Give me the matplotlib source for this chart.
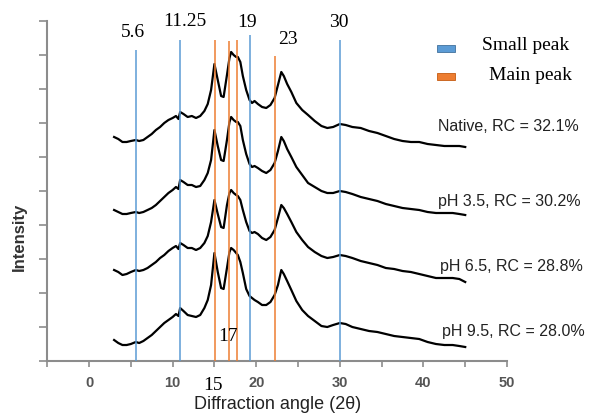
import numpy as np
import matplotlib
matplotlib.use("Agg")
import matplotlib.pyplot as plt
from matplotlib.patches import Rectangle

# 2theta grid shared by the four patterns
two_theta = [3, 3.5, 4, 4.5, 5, 5.6, 6, 6.5, 7, 7.5,
             8, 8.5, 9, 9.5, 10, 10.4, 10.7, 10.9, 11.3, 11.8,
             12.3, 12.8, 13.3, 13.8, 14.2, 14.6, 15.0, 15.4, 15.8, 16.1,
             16.5, 16.8, 17.0, 17.3, 17.6, 17.8, 18.1, 18.4, 18.8, 19.2,
             19.5, 19.8, 20.2, 20.7, 21.2, 21.7, 22.2, 22.6, 23.0, 23.3,
             23.7, 24.2, 24.8, 25.5, 26.2, 27, 27.8, 28.5, 29.2, 30,
             30.7, 31.5, 32.5, 33.5, 34.5, 35.5, 36.5, 37.5, 38.5, 39.5,
             40.5, 41.5, 42.5, 43.5, 44.3, 45]

# stacked intensities (a.u., offset already included)
native = [224, 222, 219, 219, 220, 221, 220, 221, 224, 227,
          231, 234, 238, 241, 243, 245, 242, 249, 247, 244,
          245, 243, 245, 250, 257, 271, 297, 281, 265, 264,
          286, 303, 309, 306, 304, 304, 299, 285, 271, 261,
          258, 260, 257, 254, 253, 256, 263, 276, 289, 285,
          277, 269, 258, 251, 246, 240, 235, 233, 234, 237,
          236, 234, 233, 230, 228, 225, 222, 220, 219, 219,
          217, 216, 215, 215, 215, 214]
ph35 = [151, 149, 147, 147, 148, 149, 148, 149, 151, 153,
        156, 160, 164, 168, 171, 174, 172, 181, 179, 176,
        176, 174, 175, 181, 188, 201, 231, 215, 201, 200,
        221, 239, 244, 241, 239, 239, 235, 221, 207, 197,
        194, 195, 193, 190, 188, 191, 198, 210, 224, 220,
        212, 204, 194, 186, 178, 174, 170, 168, 168, 170,
        169, 167, 164, 162, 160, 157, 155, 153, 152, 151,
        149, 148, 148, 148, 147, 146]
ph65 = [91, 89, 86, 87, 89, 91, 90, 91, 93, 96,
        99, 103, 106, 110, 113, 115, 112, 118, 116, 113,
        113, 111, 113, 118, 125, 139, 161, 147, 134, 133,
        156, 168, 171, 168, 166, 165, 161, 151, 139, 130,
        128, 129, 127, 123, 121, 124, 131, 143, 156, 153,
        147, 139, 129, 121, 114, 109, 105, 103, 104, 106,
        105, 103, 100, 98, 96, 93, 92, 90, 89, 87,
        85, 83, 83, 83, 82, 79]
ph95 = [21, 18, 16, 16, 17, 19, 18, 20, 23, 26,
        30, 34, 38, 41, 44, 47, 45, 53, 50, 46,
        45, 44, 46, 53, 61, 76, 108, 89, 73, 72,
        93, 109, 113, 111, 108, 106, 99, 88, 72, 65,
        63, 61, 59, 56, 56, 59, 66, 76, 91, 87,
        80, 71, 60, 51, 45, 40, 35, 34, 36, 38,
        37, 34, 32, 30, 29, 27, 25, 24, 23, 22,
        19, 17, 16, 16, 15, 14]

curve_labels = ["Native, RC = 32.1%", "pH 3.5, RC = 30.2%",
                "pH 6.5, RC = 28.8%", "pH 9.5, RC = 28.0%"]
curve_label_x = [41.7, 41.7, 42.0, 42.2]
curve_label_y = [234, 160, 95, 30]

# marker lines: position, top
small_pos = [5.6, 10.9, 19.25, 30.0]
small_top = [311, 321, 326, 321]
main_pos = [15.05, 16.75, 17.7, 22.25]
main_top = [321, 320, 321, 305]

peak_text = ["5.6", "11.25", "19", "23", "30", "15", "17"]
peak_text_x = [5.3, 11.5, 18.9, 23.8, 29.9, 14.8, 16.6]
peak_text_y = [328, 339, 338, 321, 338, -24, 25]

blue = "#5B9BD5"
orange = "#ED7D31"
gray = "#8c8c8c"

fig = plt.figure(figsize=(5.91, 4.19), dpi=100)
ax = fig.add_axes([0.0799, 0.1384, 0.778, 0.8115])

for y in [native, ph35, ph65, ph95]:
    ax.plot(two_theta, y, color="black", lw=1.6, zorder=2)

ax.vlines(small_pos, 0, small_top, colors=blue, lw=1.1, zorder=3)
ax.vlines(main_pos, 0, main_top, colors=orange, lw=1.1, zorder=3)

for t, x, y in zip(peak_text, peak_text_x, peak_text_y):
    ax.text(x, y, t, ha="center", va="center", fontsize=14,
            family="Liberation Serif", clip_on=False)

for t, x, y in zip(curve_labels, curve_label_x, curve_label_y):
    ax.text(x, y, t, ha="left", va="center", fontsize=11.5,
            family="Liberation Sans", color="#222222", clip_on=False)

ax.set_xlim(-5, 50)
ax.set_ylim(0, 340)
ax.set_xticks(range(0, 51, 10))
ax.set_xticks(range(-5, 50, 10), minor=True)
ax.set_yticks(np.arange(0, 341, 34))
ax.set_yticklabels([])

for s in ["top", "right"]:
    ax.spines[s].set_visible(False)
for s in ["left", "bottom"]:
    ax.spines[s].set_color(gray)
    ax.spines[s].set_linewidth(1.5)

ax.tick_params(axis="x", which="both", direction="out", length=4, width=1.2,
               color=gray, labelsize=10.5, labelcolor="#555555", pad=7)
ax.tick_params(axis="y", direction="out", length=6, width=1.2, color=gray)
for lab in ax.get_xticklabels():
    lab.set_family("Liberation Sans")
    lab.set_fontweight("bold")

ax.set_xlabel("Diffraction angle (2θ)", fontsize=13, family="Liberation Sans",
              color="#222222", labelpad=4)
fig.text(0.032, 0.435, "Intensity", rotation=90, ha="center", va="center",
         fontsize=12, fontweight="bold", family="Liberation Sans", color="#333333")

# legend drawn by hand
W, H = 591, 419
fig.patches.append(Rectangle((437 / W, 1 - 52 / H), 18 / W, 7 / H,
                             transform=fig.transFigure, facecolor=blue,
                             edgecolor="#41719C", lw=0.6))
fig.patches.append(Rectangle((437 / W, 1 - 80 / H), 18 / W, 7 / H,
                             transform=fig.transFigure, facecolor=orange,
                             edgecolor="#C55A11", lw=0.6))
fig.text(482 / W, 1 - 45 / H, "Small peak", ha="left", va="center",
         fontsize=14, family="Liberation Serif")
fig.text(489 / W, 1 - 76 / H, "Main peak", ha="left", va="center",
         fontsize=14, family="Liberation Serif")

fig.savefig("out.png", dpi=100)
